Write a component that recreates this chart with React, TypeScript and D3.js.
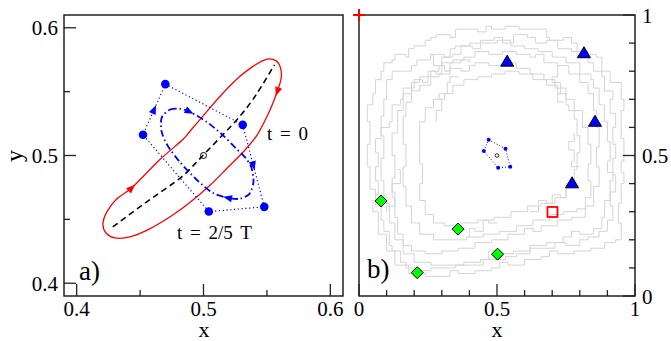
import React from "react";
import * as d3 from "d3";

type P = [number, number];

// ---------- Panel a) data ----------
const xTicksA = [0.4, 0.5, 0.6];
const xMinorA = [0.45, 0.55];
const yTicksA = [0.4, 0.5, 0.6];
const yMinorA = [0.45, 0.55];

const redLoop: P[] = [
  [0.5518, 0.5757], [0.5573, 0.5741], [0.5605, 0.5694], [0.5613, 0.5608], [0.5581, 0.5499],
  [0.5518, 0.5342], [0.5424, 0.5162], [0.5322, 0.5037], [0.5189, 0.4904], [0.5047, 0.4763],
  [0.4890, 0.4630], [0.4749, 0.4528], [0.4576, 0.4426], [0.4419, 0.4363], [0.4301, 0.4355],
  [0.4230, 0.4395], [0.4207, 0.4465], [0.4238, 0.4559], [0.4317, 0.4661], [0.4435, 0.4747],
  [0.4654, 0.4966], [0.4835, 0.5123], [0.4890, 0.5186], [0.5024, 0.5342], [0.5149, 0.5483],
  [0.5283, 0.5616], [0.5385, 0.5694], [0.5464, 0.5741],
];

const blackCurve: P[] = [
  [0.4285, 0.4442], [0.4537, 0.4626], [0.4828, 0.4833], [0.4997, 0.5002],
  [0.5284, 0.5303], [0.5425, 0.5491], [0.5559, 0.5710],
];

const blueLoop: P[] = [
  [0.4670, 0.5295], [0.4733, 0.5358], [0.4812, 0.5366], [0.4890, 0.5342], [0.5024, 0.5264],
  [0.5150, 0.5162], [0.5252, 0.5060], [0.5331, 0.4982], [0.5378, 0.4904], [0.5394, 0.4794],
  [0.5362, 0.4700], [0.5284, 0.4661], [0.5189, 0.4669], [0.5072, 0.4708], [0.4946, 0.4810],
  [0.4812, 0.4951], [0.4718, 0.5076], [0.4670, 0.5186],
];

const pentagon: P[] = [
  [0.4699, 0.5559], [0.5309, 0.5240], [0.5479, 0.4598], [0.5042, 0.4561], [0.4523, 0.5162],
];

const centre: P = [0.5, 0.5];

// arrows: index into curve
const redArrows = [4, 19];
const blueArrows = [3, 12];
const pentArrowEdges: [number, number][] = [[4, 0], [1, 2]];

// ---------- Panel b) data ----------
const xTicksB = [0, 0.5, 1];
const tickLabelsB = ["0", "0.5", "1"];
const minorB = [0.1, 0.2, 0.3, 0.4, 0.6, 0.7, 0.8, 0.9];

const triangles: P[] = [[0.537, 0.834], [0.815, 0.864], [0.855, 0.62], [0.772, 0.401]];
const diamonds: P[] = [[0.08, 0.338], [0.359, 0.238], [0.502, 0.149], [0.211, 0.083]];
const squares: P[] = [[0.701, 0.299]];
const plusMarks: P[] = [[0, 1]];

const loop1: P[] = [
  [0.06, 0.72], [0.08, 0.77], [0.09, 0.80], [0.12, 0.83], [0.13, 0.84], [0.17, 0.86], [0.18, 0.85],
  [0.20, 0.88], [0.24, 0.89], [0.26, 0.91], [0.28, 0.92], [0.33, 0.93], [0.35, 0.92], [0.38, 0.95],
  [0.43, 0.95], [0.46, 0.94], [0.48, 0.96], [0.53, 0.95], [0.58, 0.96], [0.61, 0.95], [0.63, 0.95],
  [0.68, 0.95], [0.69, 0.92], [0.74, 0.91], [0.77, 0.92], [0.79, 0.90], [0.83, 0.87], [0.86, 0.86],
  [0.88, 0.85], [0.91, 0.80], [0.95, 0.76], [0.96, 0.70], [0.95, 0.66], [0.95, 0.63], [0.96, 0.56],
  [0.95, 0.48], [0.96, 0.44], [0.95, 0.40], [0.94, 0.33], [0.95, 0.26], [0.93, 0.20], [0.89, 0.19],
  [0.86, 0.17], [0.84, 0.17], [0.78, 0.16], [0.72, 0.15], [0.69, 0.16], [0.66, 0.14], [0.60, 0.13],
  [0.54, 0.11], [0.51, 0.12], [0.48, 0.10], [0.42, 0.09], [0.36, 0.08], [0.33, 0.09], [0.30, 0.07],
  [0.24, 0.07], [0.18, 0.08], [0.13, 0.11], [0.10, 0.16], [0.07, 0.22], [0.05, 0.30], [0.06, 0.34],
  [0.04, 0.38], [0.03, 0.46], [0.04, 0.54], [0.03, 0.62], [0.05, 0.68], [0.06, 0.72],
];

const loop2: P[] = [
  [0.10, 0.70], [0.12, 0.77], [0.16, 0.80], [0.19, 0.80], [0.21, 0.82], [0.26, 0.84], [0.31, 0.86],
  [0.33, 0.85], [0.35, 0.88], [0.40, 0.89], [0.45, 0.90], [0.50, 0.90], [0.55, 0.91], [0.58, 0.89],
  [0.60, 0.89], [0.65, 0.88], [0.70, 0.87], [0.75, 0.85], [0.80, 0.83], [0.84, 0.79], [0.85, 0.77],
  [0.87, 0.74], [0.89, 0.68], [0.90, 0.62], [0.91, 0.55], [0.90, 0.48], [0.92, 0.44], [0.91, 0.41],
  [0.89, 0.34], [0.88, 0.28], [0.85, 0.24], [0.80, 0.22], [0.77, 0.23], [0.74, 0.21], [0.68, 0.19],
  [0.62, 0.18], [0.56, 0.16], [0.50, 0.15], [0.47, 0.16], [0.44, 0.13], [0.38, 0.12], [0.32, 0.11],
  [0.26, 0.11], [0.20, 0.12], [0.16, 0.15], [0.13, 0.20], [0.11, 0.26], [0.09, 0.33], [0.08, 0.41],
  [0.09, 0.49], [0.08, 0.57], [0.09, 0.64], [0.10, 0.70],
];

const loop3: P[] = [
  [0.14, 0.66], [0.16, 0.72], [0.19, 0.76], [0.22, 0.78], [0.26, 0.80], [0.28, 0.79], [0.30, 0.83],
  [0.34, 0.84], [0.38, 0.85], [0.42, 0.87], [0.47, 0.86], [0.52, 0.87], [0.57, 0.86], [0.62, 0.85],
  [0.64, 0.86], [0.67, 0.83], [0.72, 0.82], [0.76, 0.79], [0.80, 0.76], [0.83, 0.72], [0.85, 0.66],
  [0.86, 0.60], [0.87, 0.53], [0.86, 0.46], [0.87, 0.39], [0.85, 0.32], [0.82, 0.28], [0.77, 0.27],
  [0.72, 0.25], [0.66, 0.23], [0.63, 0.24], [0.60, 0.22], [0.54, 0.20], [0.48, 0.19], [0.42, 0.17],
  [0.36, 0.16], [0.30, 0.15], [0.24, 0.16], [0.19, 0.18], [0.16, 0.22], [0.14, 0.28], [0.13, 0.35],
  [0.12, 0.42], [0.13, 0.50], [0.12, 0.58], [0.14, 0.66],
];

const loop4: P[] = [
  [0.17, 0.64], [0.19, 0.69], [0.22, 0.73], [0.26, 0.75], [0.29, 0.78], [0.33, 0.79], [0.37, 0.81],
  [0.40, 0.80], [0.42, 0.82], [0.47, 0.83], [0.52, 0.82], [0.57, 0.83], [0.62, 0.81], [0.67, 0.79],
  [0.71, 0.77], [0.75, 0.74], [0.78, 0.70], [0.81, 0.66], [0.83, 0.60], [0.84, 0.54], [0.83, 0.47],
  [0.84, 0.41], [0.82, 0.35], [0.79, 0.31], [0.74, 0.30], [0.69, 0.29], [0.63, 0.27], [0.57, 0.25],
  [0.51, 0.23], [0.45, 0.22], [0.39, 0.21], [0.33, 0.20], [0.27, 0.20], [0.22, 0.22], [0.19, 0.26],
  [0.17, 0.32], [0.16, 0.39], [0.17, 0.46], [0.16, 0.54], [0.17, 0.64],
];

const loop5: P[] = [
  [0.22, 0.62], [0.24, 0.67], [0.27, 0.70], [0.31, 0.72], [0.34, 0.75], [0.38, 0.77], [0.43, 0.78],
  [0.48, 0.79], [0.53, 0.80], [0.58, 0.79], [0.63, 0.77], [0.68, 0.75], [0.72, 0.72], [0.75, 0.68],
  [0.76, 0.66], [0.78, 0.63], [0.79, 0.57], [0.80, 0.51], [0.79, 0.45], [0.78, 0.40], [0.75, 0.35],
  [0.71, 0.33], [0.66, 0.32], [0.61, 0.30], [0.55, 0.28], [0.49, 0.27], [0.43, 0.26], [0.37, 0.25],
  [0.31, 0.26], [0.27, 0.29], [0.24, 0.34], [0.22, 0.40], [0.23, 0.47], [0.22, 0.54], [0.22, 0.62],
];

const loop6: P[] = [
  [0.11, 0.62], [0.12, 0.68], [0.15, 0.70], [0.16, 0.74], [0.20, 0.77], [0.23, 0.76], [0.25, 0.80],
  [0.29, 0.82], [0.30, 0.85], [0.34, 0.86], [0.37, 0.89], [0.41, 0.88], [0.44, 0.91], [0.49, 0.92],
  [0.52, 0.90], [0.56, 0.93], [0.61, 0.92], [0.64, 0.90], [0.68, 0.91], [0.72, 0.88], [0.77, 0.87],
  [0.79, 0.85], [0.83, 0.83], [0.85, 0.80], [0.88, 0.78], [0.89, 0.73], [0.92, 0.70], [0.91, 0.65],
  [0.93, 0.60], [0.92, 0.54], [0.93, 0.49], [0.92, 0.43], [0.93, 0.37], [0.91, 0.32], [0.92, 0.27],
  [0.90, 0.23], [0.87, 0.21], [0.83, 0.20], [0.80, 0.18], [0.75, 0.19], [0.71, 0.17], [0.66, 0.17],
  [0.62, 0.15], [0.57, 0.14], [0.53, 0.13], [0.48, 0.13], [0.45, 0.11], [0.40, 0.11], [0.35, 0.10],
  [0.30, 0.10], [0.26, 0.09], [0.21, 0.10], [0.17, 0.12], [0.15, 0.16], [0.12, 0.18], [0.11, 0.23],
  [0.09, 0.27], [0.08, 0.32], [0.06, 0.36], [0.07, 0.41], [0.06, 0.46], [0.07, 0.51], [0.06, 0.56],
  [0.08, 0.60], [0.11, 0.62],
];

const fuzz1: P[] = [[0.28, 0.62], [0.30, 0.66], [0.29, 0.70], [0.32, 0.72], [0.33, 0.76], [0.36, 0.78]];
const fuzz2: P[] = [[0.62, 0.30], [0.65, 0.34], [0.68, 0.33], [0.70, 0.36], [0.73, 0.35], [0.75, 0.38]];
const fuzz3: P[] = [[0.72, 0.82], [0.70, 0.78], [0.73, 0.76], [0.72, 0.72], [0.74, 0.69]];
const fuzz4: P[] = [[0.80, 0.46], [0.77, 0.48], [0.78, 0.52], [0.76, 0.55], [0.78, 0.58]];
const fuzz5: P[] = [[0.40, 0.21], [0.42, 0.24], [0.45, 0.23], [0.47, 0.27], [0.50, 0.26]];
const fuzz6: P[] = [[0.26, 0.86], [0.27, 0.82], [0.31, 0.80], [0.33, 0.83], [0.37, 0.84], [0.40, 0.83]];
const fuzz7: P[] = [[0.10, 0.30], [0.13, 0.32], [0.12, 0.37], [0.15, 0.40], [0.14, 0.45]];

const grayPaths = [loop1, loop6, loop2, loop3, loop4, loop5, fuzz1, fuzz2, fuzz3, fuzz4, fuzz5, fuzz6, fuzz7];

// ---------- layout ----------
const W = 671;
const H = 341;
const FONT = "Liberation Serif, Times New Roman, Times, serif";

const xA = d3.scaleLinear().domain([0.39, 0.61]).range([64, 343]);
const yA = d3.scaleLinear().domain([0.39, 0.61]).range([296, 15]);
const xB = d3.scaleLinear().domain([0, 1]).range([359, 635]);
const yB = d3.scaleLinear().domain([0, 1]).range([296, 15]);

function arrowPath(x: number, y: number, dx: number, dy: number, len = 9, hw = 3.6) {
  const n = Math.hypot(dx, dy) || 1;
  const ux = dx / n, uy = dy / n;
  const tx = x + ux * len * 0.5, ty = y + uy * len * 0.5;
  const bx = x - ux * len * 0.5, by = y - uy * len * 0.5;
  const px = -uy * hw, py = ux * hw;
  return `M${tx},${ty}L${bx + px},${by + py}L${bx - px},${by - py}Z`;
}

function arrowAt(pts: P[], i: number, sx: (v: number) => number, sy: (v: number) => number) {
  const n = pts.length;
  const a = pts[(i - 1 + n) % n], b = pts[(i + 1) % n], c = pts[i];
  return arrowPath(sx(c[0]), sy(c[1]), sx(b[0]) - sx(a[0]), sy(b[1]) - sy(a[1]));
}

export default function App() {
  const lineA = d3.line<P>().x((d) => xA(d[0])).y((d) => yA(d[1]));
  const lineB = d3.line<P>().x((d) => xB(d[0])).y((d) => yB(d[1]));
  const redD = lineA.curve(d3.curveCardinalClosed.tension(0.2))(redLoop) || "";
  const blueD = lineA.curve(d3.curveCardinalClosed.tension(0.2))(blueLoop) || "";
  const blackD = lineA.curve(d3.curveCardinal.tension(0.2))(blackCurve) || "";
  const pentD = lineA.curve(d3.curveLinearClosed)(pentagon) || "";
  const pentBD = lineB.curve(d3.curveLinearClosed)(pentagon) || "";
  const grayD = grayPaths.map((l, i) => lineB.curve(i % 2 ? d3.curveStepAfter : d3.curveStepBefore)(l) || "");

  const tickStroke = "#222";
  const fs = 21;

  return (
    <svg width={W} height={H} style={{ position: "absolute", left: 0, top: 0, background: "#fff" }}
      fontFamily={FONT}>
      <rect x={0} y={0} width={W} height={H} fill="#fff" />

      {/* ===== Panel a ===== */}
      <g>
        <path d={redD} fill="none" stroke="#ff0000" strokeWidth={1.3} />
        {redArrows.map((i) => (
          <path key={"ra" + i} d={arrowAt(redLoop, i, xA, yA)} fill="#ff0000" />
        ))}
        <path d={blackD} fill="none" stroke="#000" strokeWidth={1.6} strokeDasharray="6,4" />
        <path d={pentD} fill="none" stroke="#0000ff" strokeWidth={1.2} strokeDasharray="1.2,2.6" />
        {pentArrowEdges.map(([a, b], k) => {
          const pa = pentagon[a], pb = pentagon[b];
          const mx = (xA(pa[0]) + xA(pb[0])) / 2, my = (yA(pa[1]) + yA(pb[1])) / 2;
          return <path key={"pa" + k} d={arrowPath(mx, my, xA(pb[0]) - xA(pa[0]), yA(pb[1]) - yA(pa[1]))} fill="#0000ff" />;
        })}
        <path d={blueD} fill="none" stroke="#0000ff" strokeWidth={1.8} strokeDasharray="7,3,1.5,3" />
        {blueArrows.map((i) => (
          <path key={"ba" + i} d={arrowAt(blueLoop, i, xA, yA)} fill="#0000ff" />
        ))}
        {pentagon.map((p, i) => (
          <circle key={"pd" + i} cx={xA(p[0])} cy={yA(p[1])} r={4.3} fill="#0000ff" />
        ))}
        <circle cx={xA(centre[0])} cy={yA(centre[1])} r={3} fill="none" stroke="#000" strokeWidth={1} />

        <text x={267} y={140} fontSize={19} wordSpacing={3}>t = 0</text>
        <text x={177} y={239} fontSize={19} wordSpacing={3}>t = 2/5 T</text>
        <text x={79} y={280} fontSize={27}>a)</text>

        {/* frame */}
        <rect x={64} y={15} width={279} height={281} fill="none" stroke={tickStroke} strokeWidth={1.5} />
        {xTicksA.map((t) => (
          <line key={"xt" + t} x1={xA(t)} x2={xA(t)} y1={296} y2={284} stroke={tickStroke} strokeWidth={1.3} />
        ))}
        {xMinorA.map((t) => (
          <line key={"xm" + t} x1={xA(t)} x2={xA(t)} y1={296} y2={290} stroke={tickStroke} strokeWidth={1.3} />
        ))}
        {yTicksA.map((t) => (
          <line key={"yt" + t} x1={64} x2={76} y1={yA(t)} y2={yA(t)} stroke={tickStroke} strokeWidth={1.3} />
        ))}
        {yMinorA.map((t) => (
          <line key={"ym" + t} x1={64} x2={70} y1={yA(t)} y2={yA(t)} stroke={tickStroke} strokeWidth={1.3} />
        ))}
        {xTicksA.map((t) => (
          <text key={"xl" + t} x={xA(t)} y={316} fontSize={fs} textAnchor="middle">{t.toFixed(1)}</text>
        ))}
        {yTicksA.map((t) => (
          <text key={"yl" + t} x={58} y={yA(t) + 7.5} fontSize={fs} textAnchor="end">{t.toFixed(1)}</text>
        ))}
        <text x={204} y={337} fontSize={22} textAnchor="middle">x</text>
        <text transform="translate(22,156) rotate(-90)" fontSize={24} textAnchor="middle">y</text>
      </g>

      {/* ===== Panel b ===== */}
      <g>
        {grayD.map((d, i) => (
          <path key={"lp" + i} d={d} fill="none" stroke="#d4d4d4" strokeWidth={1} />
        ))}
        <path d={pentBD} fill="none" stroke="#0000ff" strokeWidth={1} strokeDasharray="1,2" />
        {pentagon.map((p, i) => (
          <circle key={"pbd" + i} cx={xB(p[0])} cy={yB(p[1])} r={2} fill="#0000ff" />
        ))}
        <circle cx={xB(centre[0])} cy={yB(centre[1])} r={1.8} fill="none" stroke="#000" strokeWidth={0.8} />

        {triangles.map((p, i) => {
          const cx = xB(p[0]), cy = yB(p[1]);
          return <path key={"tr" + i} d={`M${cx},${cy - 6.5}L${cx + 6.5},${cy + 4.5}L${cx - 6.5},${cy + 4.5}Z`}
            fill="#0000ff" stroke="#000" strokeWidth={1} />;
        })}
        {diamonds.map((p, i) => {
          const cx = xB(p[0]), cy = yB(p[1]);
          return <path key={"dm" + i} d={`M${cx},${cy - 6}L${cx + 6},${cy}L${cx},${cy + 6}L${cx - 6},${cy}Z`}
            fill="#00ff00" stroke="#000" strokeWidth={1} />;
        })}
        {squares.map((p, i) => (
          <rect key={"sq" + i} x={xB(p[0]) - 5} y={yB(p[1]) - 5} width={10} height={10}
            fill="none" stroke="#ff0000" strokeWidth={1.8} />
        ))}

        <text x={367} y={278} fontSize={27}>b)</text>

        <rect x={359} y={15} width={276} height={281} fill="none" stroke={tickStroke} strokeWidth={1.5} />
        {xTicksB.map((t) => (
          <line key={"bxt" + t} x1={xB(t)} x2={xB(t)} y1={296} y2={284} stroke={tickStroke} strokeWidth={1.3} />
        ))}
        {minorB.map((t) => (
          <line key={"bxm" + t} x1={xB(t)} x2={xB(t)} y1={296} y2={290} stroke={tickStroke} strokeWidth={1.3} />
        ))}
        {xTicksB.map((t) => (
          <line key={"byt" + t} x1={635} x2={623} y1={yB(t)} y2={yB(t)} stroke={tickStroke} strokeWidth={1.3} />
        ))}
        {minorB.map((t) => (
          <line key={"bym" + t} x1={635} x2={629} y1={yB(t)} y2={yB(t)} stroke={tickStroke} strokeWidth={1.3} />
        ))}
        {xTicksB.map((t, i) => (
          <text key={"bxl" + t} x={xB(t)} y={316} fontSize={fs} textAnchor="middle">{tickLabelsB[i]}</text>
        ))}
        {xTicksB.map((t, i) => (
          <text key={"byl" + t} x={642} y={yB(t) + 7.5} fontSize={fs} textAnchor="start">{tickLabelsB[i]}</text>
        ))}
        <text x={497} y={337} fontSize={22} textAnchor="middle">x</text>

        {plusMarks.map((p, i) => (
          <g key={"pl" + i} stroke="#ff0000" strokeWidth={2}>
            <line x1={xB(p[0]) - 6} x2={xB(p[0]) + 6} y1={yB(p[1])} y2={yB(p[1])} />
            <line x1={xB(p[0])} x2={xB(p[0])} y1={yB(p[1]) - 6} y2={yB(p[1]) + 6} />
          </g>
        ))}
      </g>
    </svg>
  );
}
